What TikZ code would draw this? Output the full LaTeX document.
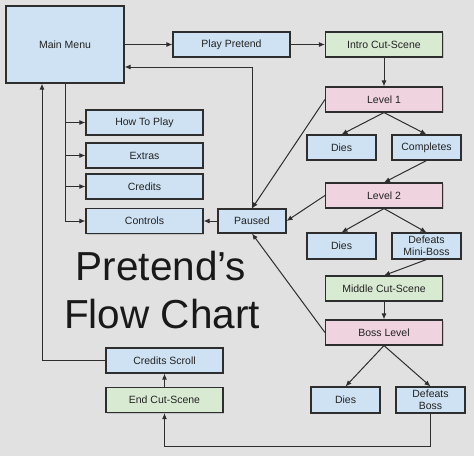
\documentclass[tikz,border=0pt]{standalone}
\usepackage{fontspec}
\setmainfont{Liberation Sans}
\usetikzlibrary{arrows.meta,shadows}
\definecolor{backgr}{HTML}{E1E1E1}
\definecolor{boxblue}{HTML}{CFE2F3}
\definecolor{boxgreen}{HTML}{D9EAD3}
\definecolor{boxpink}{HTML}{EFD3DE}
\definecolor{boxline}{HTML}{2E2E2E}
\definecolor{boxtext}{HTML}{222222}
\begin{document}
\begin{tikzpicture}[x=1pt,y=-1pt,>={Latex[length=6pt,width=5pt]},
		box/.style={draw=boxline,line width=1.1pt,text=boxtext,inner sep=0pt,align=center,font=\fontsize{10.5}{12}\selectfont,drop shadow={shadow xshift=1pt,shadow yshift=-1pt,opacity=0.3}},
		blue/.style={box,fill=boxblue},
		green/.style={box,fill=boxgreen},
		pink/.style={box,fill=boxpink},
		wide/.style={minimum width=117pt,minimum height=25pt},
		small/.style={minimum width=69pt,minimum height=25pt},
		link/.style={->,line width=1pt,draw=boxline},
		title/.style={anchor=base,inner sep=0pt,text=black!90,font=\fontsize{40.5}{48}\selectfont}]
		\fill[backgr] (0,0) rectangle (474,456);
		\useasboundingbox (0,0) rectangle (474,456);
		% main menu and its sub menus
		\node[blue,minimum width=118pt,minimum height=77pt] (menu) at (65,44.5) {Main Menu};
		\node[blue,wide] (howto) at (144.5,122.5) {How To Play};
		\node[blue,wide] (extras) at (144.5,155.5) {Extras};
		\node[blue,wide] (credits) at (144.5,186.5) {Credits};
		\node[blue,wide] (controls) at (144.5,221) {Controls};
		\node[blue,minimum width=68pt,minimum height=24pt] (paused) at (252,221) {Paused};
		% game flow
		\node[blue,wide] (play) at (231.5,44.5) {Play Pretend};
		\node[green,wide] (intro) at (384,44.5) {Intro Cut-Scene};
		\node[pink,wide] (lvlone) at (384,99.5) {Level 1};
		\node[blue,small] (diesone) at (341.5,147.5) {Dies};
		\node[blue,small] (compl) at (426.5,147.5) {Completes};
		\node[pink,wide] (lvltwo) at (384,195.5) {Level 2};
		\node[blue,small,minimum height=26pt] (diestwo) at (341.5,246) {Dies};
		\node[blue,small,minimum height=26pt] (minib) at (426.5,246) {Defeats\\Mini-Boss};
		\node[green,wide] (middle) at (384,288.5) {Middle Cut-Scene};
		\node[pink,wide] (boss) at (384,332.5) {Boss Level};
		\node[blue,small,minimum height=26pt] (diesthree) at (345.5,400) {Dies};
		\node[blue,small,minimum height=26pt] (defboss) at (430.5,400) {Defeats\\Boss};
		\node[green,wide] (endcut) at (164.5,400) {End Cut-Scene};
		\node[blue,wide] (scroll) at (164.5,360.5) {Credits Scroll};
		% title
		\node[title] (titleone) at (161,280) {Pretend’s};
		\node[title] (titletwo) at (162,328) {Flow Chart};
		\coordinate (back) at ([yshift=-22.5pt]menu.east);
		\coordinate (loop) at ([xshift=-23pt]menu.south);
		\draw[link] (menu) -- (play);
		\draw[link] (play) -- (intro);
		\draw[link] (intro) -- (lvlone);
		\draw[link] (lvlone.south) -- (diesone.north);
		\draw[link] (lvlone.south) -- (compl.north);
		\draw[link] (compl.south) -- (lvltwo.north);
		\draw[link] (lvltwo.south) -- (diestwo.north);
		\draw[link] (lvltwo.south) -- (minib.north);
		\draw[link] (minib.south) -- (middle.north);
		\draw[link] (middle) -- (boss);
		\draw[link] (boss.south) -- (diesthree.north);
		\draw[link] (boss.south) -- (defboss.north);
		% pausing from the levels
		\draw[link] (lvlone.west) -- (paused.north);
		\draw[link] (lvltwo.west) -- (paused.east);
		\draw[link] (boss.west) -- (paused.south);
		\draw[link] (paused.north) |- (back);
		\draw[link] (paused) -- (controls);
		\draw[line width=1pt,draw=boxline] (menu.south) -- (menu.south |- controls.west);
		\foreach \sub in {howto,extras,credits,controls}
			\draw[link] (menu.south |- \sub.west) -- (\sub.west);
		% ending
		\draw[link] (defboss.south) -- ++(0,33) -| (endcut.south);
		\draw[link] (endcut) -- (scroll);
		\draw[link] (scroll.west) -| (loop);
	\end{tikzpicture}
\end{document}
